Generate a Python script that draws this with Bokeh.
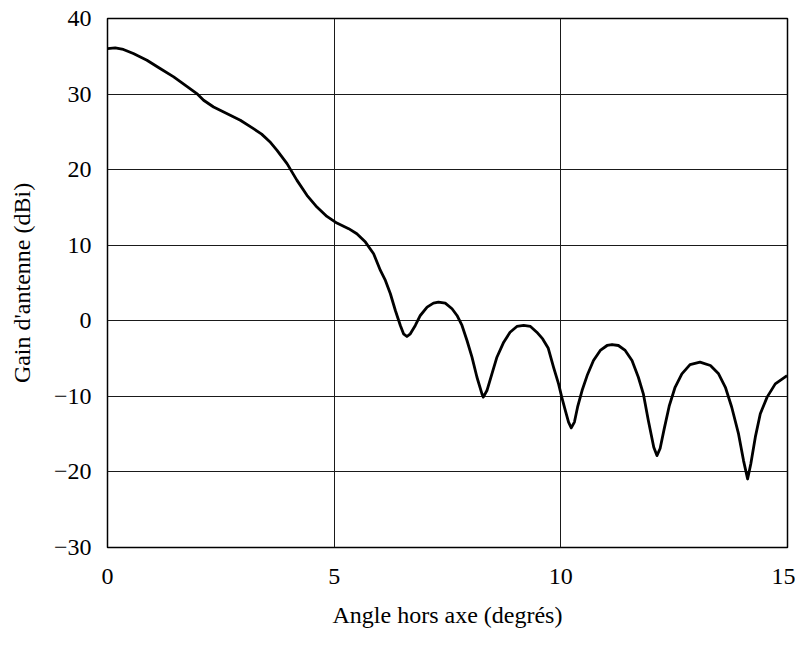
from bokeh.plotting import figure
from bokeh.models import Range1d, FixedTicker
from bokeh.embed import file_html
from bokeh.resources import INLINE

angle = [0.00, 0.17, 0.35, 0.57, 0.87, 1.16, 1.46, 1.75, 1.97, 2.12, 2.34, 2.63,
         2.93, 3.22, 3.40, 3.58, 3.74, 3.96, 4.18, 4.40, 4.62, 4.84, 5.06, 5.32, 5.50,
         5.69, 5.87, 6.02, 6.13, 6.24, 6.35, 6.46, 6.53, 6.605, 6.68, 6.79, 6.90,
         7.05, 7.19, 7.30, 7.45, 7.60, 7.71, 7.82, 7.93, 8.04, 8.15, 8.26, 8.29,
         8.37, 8.48, 8.59, 8.74, 8.88, 9.03, 9.18, 9.33, 9.47, 9.60, 9.72, 9.84,
         9.95, 10.02, 10.10, 10.17, 10.23, 10.30, 10.37, 10.47, 10.58, 10.72,
         10.87, 11.02, 11.13, 11.27, 11.42, 11.57, 11.71, 11.82, 11.93, 12.05,
         12.12, 12.19, 12.28, 12.39, 12.52, 12.67, 12.85, 13.07, 13.30, 13.48,
         13.63, 13.77, 13.92, 14.03, 14.12, 14.19, 14.29, 14.40, 14.55, 14.73,
         14.99]
gain = [36.0, 36.1, 35.9, 35.36, 34.48, 33.38, 32.27, 31.03, 30.07, 29.18, 28.29,
        27.42, 26.53, 25.43, 24.7, 23.7, 22.56, 20.8, 18.58, 16.6, 15.05, 13.81, 12.93,
        12.19, 11.52, 10.41, 8.87, 6.66, 5.34, 3.58, 1.36, -0.62, -1.72, -2.08,
        -1.72, -0.62, 0.70, 1.80, 2.33, 2.46, 2.33, 1.59, 0.70, -0.62, -2.61,
        -4.82, -7.47, -9.67, -10.1, -9.23, -7.02, -4.82, -2.83, -1.51, -0.75,
        -0.62, -0.75, -1.51, -2.4, -3.6, -6.15, -8.35, -10.1, -11.9, -13.4,
        -14.17, -13.4, -11.4, -9.2, -7.25, -5.26, -3.93, -3.27, -3.14, -3.27,
        -3.93, -5.26, -7.47, -9.67, -13.2, -16.74, -17.84, -16.9, -14.3, -11.3,
        -8.8, -7.02, -5.8, -5.48, -5.92, -7.02, -8.8, -11.44, -14.97, -18.5,
        -20.93, -18.94, -15.4, -12.3, -10.1, -8.35, -7.25]

x_ticks = [0, 5, 10, 15]
y_ticks = [-30, -20, -10, 0, 10, 20, 30, 40]
x_title = "Angle hors axe (degrés)"
y_title = "Gain d'antenne (dBi)"

FONT = "Liberation Serif"
FS = "24px"

p = figure(width=795, height=638, output_backend="svg", toolbar_location=None,
           x_range=Range1d(0, 15), y_range=Range1d(-30, 40),
           min_border_left=107, min_border_right=8, min_border_top=18,
           min_border_bottom=91)
p.background_fill_color = "white"
p.border_fill_color = "white"
p.outline_line_color = "black"
p.outline_line_width = 1.5

p.line(angle, gain, line_color="black", line_width=2.8, line_join="round")

p.xaxis.ticker = FixedTicker(ticks=x_ticks)
p.yaxis.ticker = FixedTicker(ticks=y_ticks)
p.yaxis.major_label_overrides = {t: (str(t).replace("-", "\u2212")) for t in y_ticks}

for ax in (p.xaxis[0], p.yaxis[0]):
    ax.axis_line_color = None
    ax.major_tick_line_color = None
    ax.minor_tick_line_color = None
    ax.major_tick_out = 0
    ax.major_tick_in = 0
    ax.major_label_text_font = FONT
    ax.major_label_text_font_size = FS
    ax.major_label_text_color = "black"
    ax.axis_label_text_font = FONT
    ax.axis_label_text_font_size = FS
    ax.axis_label_text_font_style = "normal"
    ax.axis_label_text_color = "black"

p.xaxis.axis_label = x_title
p.yaxis.axis_label = y_title
p.xaxis.major_label_standoff = 21
p.xaxis.axis_label_standoff = 15
p.yaxis.major_label_standoff = 16
p.yaxis.axis_label_standoff = 16

p.grid.grid_line_color = "#1a1a1a"
p.grid.grid_line_width = 1
p.grid.grid_line_alpha = 1.0

open("out.html", "w").write(file_html(p, INLINE))
